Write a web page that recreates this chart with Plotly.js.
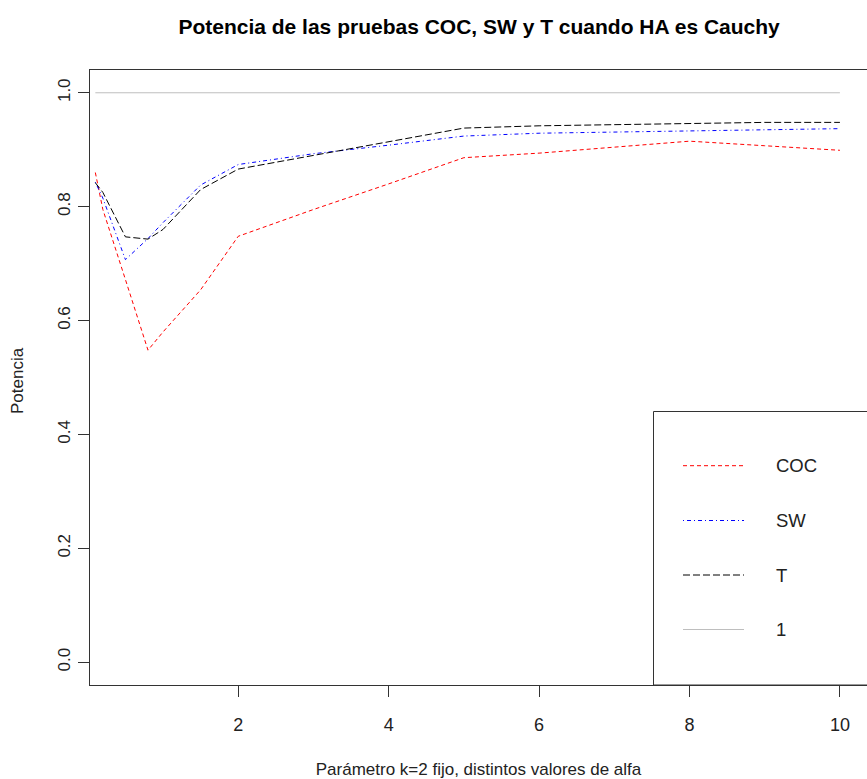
<!DOCTYPE html>
<html>
<head>
<meta charset="utf-8">
<script src="https://cdn.plot.ly/plotly-3.0.1.min.js"></script>
<style>html,body{margin:0;padding:0;background:#fff;}#chart{width:867px;height:779px;}</style>
</head>
<body>
<div id="chart"></div>
<script>
// Data
const alpha = [0.1, 0.2, 0.5, 0.8, 1, 1.5, 2, 3, 4, 5, 6, 7, 8, 9, 10];
const potCOC = [0.860, 0.795, 0.672, 0.548, 0.580, 0.654, 0.748, 0.795, 0.840, 0.886, 0.894, 0.905, 0.915, 0.907, 0.899];
const potSW  = [0.843, 0.815, 0.707, 0.744, 0.772, 0.838, 0.874, 0.893, 0.908, 0.924, 0.929, 0.931, 0.933, 0.935, 0.937];
const potT   = [0.842, 0.825, 0.747, 0.743, 0.760, 0.830, 0.866, 0.890, 0.915, 0.938, 0.942, 0.944, 0.946, 0.948, 0.948];
const refX = [0.1, 10];
const refY = [1, 1];
const seriesNames = ["COC", "SW", "T", "1"];
const seriesColors = ["#ff0000", "#0000ff", "#000000", "#bebebe"];
const seriesDash = ["4px,3px", "1px,3px,4px,3px", "7px,3px", "solid"];
const xTicks = [2, 4, 6, 8, 10];
const yTicks = [0, 0.2, 0.4, 0.6, 0.8, 1.0];
const yTickText = ["0.0", "0.2", "0.4", "0.6", "0.8", "1.0"];

const FONT = "'Liberation Sans', Arial, sans-serif";
const AX = "#333333";

const traces = [
  {x: alpha, y: potCOC, name: seriesNames[0]},
  {x: alpha, y: potSW, name: seriesNames[1]},
  {x: alpha, y: potT, name: seriesNames[2]},
  {x: refX, y: refY, name: seriesNames[3]}
].map((t, i) => Object.assign(t, {
  type: "scatter", mode: "lines", showlegend: false, hoverinfo: "skip",
  line: {color: seriesColors[i], width: 1, dash: seriesDash[i]}
}));

// Manual legend (box, samples, labels) placed in paper coordinates
const W = 777, H = 615, L = 90, T = 70;
const px = v => (v - L) / W;
const py = v => (T + H - v) / H;
const legRowsY = [465.7, 520.5, 575, 629.5];
const shapes = [
  {type: "rect", xref: "paper", yref: "paper", x0: px(653.5), x1: 1.02, y0: 0, y1: py(411.5),
   line: {color: AX, width: 1}, fillcolor: "rgba(0,0,0,0)", layer: "above"}
];
const annotations = [];
seriesNames.forEach((n, i) => {
  shapes.push({type: "line", xref: "paper", yref: "paper", x0: px(683), x1: px(744),
    y0: py(legRowsY[i]), y1: py(legRowsY[i]),
    line: {color: seriesColors[i], width: 1, dash: seriesDash[i]}});
  annotations.push({xref: "paper", yref: "paper", x: px(774), y: py(legRowsY[i]),
    xanchor: "left", yanchor: "middle", showarrow: false, text: n,
    font: {family: FONT, size: 18.5, color: "#222"}});
});
// y axis title as rotated annotation
annotations.push({xref: "paper", yref: "paper", x: px(18), y: py(381), xanchor: "center", yanchor: "middle",
  showarrow: false, textangle: -90, text: "Potencia", font: {family: FONT, size: 17, color: "#222"}});

const layout = {
  width: 867, height: 779,
  margin: {l: L, r: 0, t: T, b: 779 - T - H, pad: 0},
  paper_bgcolor: "#fff", plot_bgcolor: "#fff",
  font: {family: FONT, color: "#222"},
  title: {text: "<b>Potencia de las pruebas COC, SW y T cuando HA es Cauchy</b>",
    font: {family: FONT, size: 21, color: "#000"}, x: 0.5526, xanchor: "center", y: 0.966, yanchor: "middle"},
  xaxis: {
    range: [0.029, 10.36], tickvals: xTicks, ticktext: xTicks.map(String),
    showgrid: false, zeroline: false, showline: true, mirror: true, linecolor: AX, linewidth: 1,
    ticks: "outside", ticklen: 11, tickcolor: AX, ticklabelstandoff: 12,
    tickfont: {family: FONT, size: 18, color: "#222"},
    title: {text: "Parámetro k=2 fijo, distintos valores de alfa", font: {family: FONT, size: 17, color: "#222"}, standoff: 31}
  },
  yaxis: {
    range: [-0.04, 1.04], tickvals: yTicks, ticktext: yTickText, tickangle: -90,
    showgrid: false, zeroline: false, showline: true, mirror: false, linecolor: AX, linewidth: 1,
    ticks: "outside", ticklen: 11, tickcolor: AX, ticklabelstandoff: 1,
    tickfont: {family: FONT, size: 17, color: "#222"}
  },
  shapes: shapes,
  annotations: annotations
};

Plotly.newPlot("chart", traces, layout, {staticPlot: true, displayModeBar: false});
</script>
</body>
</html>
